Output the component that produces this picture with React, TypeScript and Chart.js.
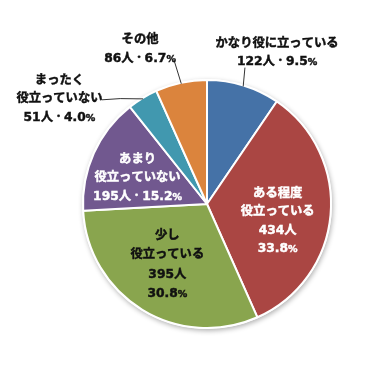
import React, { useEffect, useRef } from "react";
import { Chart, registerables } from "chart.js";

Chart.register(...registerables);

const categories = ["かなり役に立っている", "ある程度役立っている", "少し役立っている", "あまり役立っていない", "まったく役立っていない", "その他"];
const counts = [122, 434, 395, 195, 51, 86];
const percents = ["9.5", "33.8", "30.8", "15.2", "4.0", "6.7"];
const colors = ["#4572A7", "#AA4643", "#89A54E", "#71588F", "#4198AF", "#DB843D"];

const DOT = "\u2009･\u2009";
// label text lines per slice
const labelLines = [
  ["かなり役に立っている", `${counts[0]}人${DOT}${percents[0]}%`],
  ["ある程度", "役立っている", `${counts[1]}人`, `${percents[1]}%`],
  ["少し", "役立っている", `${counts[2]}人`, `${percents[2]}%`],
  ["あまり", "役立っていない", `${counts[3]}人${DOT}${percents[3]}%`],
  ["まったく", "役立っていない", `${counts[4]}人${DOT}${percents[4]}%`],
  ["その他", `${counts[5]}人${DOT}${percents[5]}%`],
];
const labelColors = ["#111", "#fff", "#111", "#fff", "#111", "#111"];
// label block centre relative to pie centre, in units of radius
const labelPos = [
  [0.565, -1.23],
  [0.57, 0.13],
  [-0.32, 0.48],
  [-0.56, -0.22],
  [-1.19, -0.855],
  [-0.54, -1.26],
];
// leader line start relative to centre (units of radius), null = no leader
const leaderStart: (number[] | null)[] = [
  [0.306, -1.10],
  null,
  null,
  null,
  [-0.85, -0.84, -0.70, -0.85],
  [-0.266, -1.16],
];
const lineH = [18, 18.5, 19.5, 18.5, 18.5, 19];

const FONT = "'DejaVu Sans', 'Noto Sans CJK JP', sans-serif";

function drawRich(ctx: CanvasRenderingContext2D, text: string, cx: number, cy: number, color: string) {
  const parts: { t: string; s: number }[] = [];
  for (const ch of text) {
    const s = ch === "%" ? 9.5 : 12.3;
    if (parts.length && parts[parts.length - 1].s === s) parts[parts.length - 1].t += ch;
    else parts.push({ t: ch, s });
  }
  let w = 0;
  for (const p of parts) {
    ctx.font = `bold ${p.s}px ${FONT}`;
    w += ctx.measureText(p.t).width;
  }
  let x = cx - w / 2;
  ctx.fillStyle = color;
  ctx.strokeStyle = color;
  ctx.lineWidth = 0.45;
  ctx.textBaseline = "alphabetic";
  ctx.textAlign = "left";
  for (const p of parts) {
    ctx.font = `bold ${p.s}px ${FONT}`;
    ctx.fillText(p.t, x, cy + 4.5);
    ctx.strokeText(p.t, x, cy + 4.5);
    x += ctx.measureText(p.t).width;
  }
}

const labelPlugin = {
  id: "pieLabels",
  beforeDatasetsDraw(chart: any) {
    const arc = chart.getDatasetMeta(0).data[0];
    if (!arc) return;
    const ctx = chart.ctx;
    ctx.save();
    ctx.shadowColor = "rgba(0,0,0,0.3)";
    ctx.shadowBlur = 5;
    ctx.shadowOffsetX = 1;
    ctx.shadowOffsetY = 2;
    ctx.fillStyle = "#fff";
    ctx.beginPath();
    ctx.arc(arc.x, arc.y, arc.outerRadius + 1, 0, Math.PI * 2);
    ctx.fill();
    ctx.restore();
  },
  afterDatasetsDraw(chart: any) {
    const ctx = chart.ctx;
    const meta = chart.getDatasetMeta(0);
    ctx.save();
    meta.data.forEach((a: any, i: number) => {
      const R = a.outerRadius;
      const cx = a.x, cy = a.y;
      const mid = (a.startAngle + a.endAngle) / 2;
      const ls = leaderStart[i];
      if (ls) {
        ctx.strokeStyle = "#333";
        ctx.lineWidth = 1;
        ctx.beginPath();
        ctx.moveTo(cx + ls[0] * R, cy + ls[1] * R);
        if (ls.length > 2) ctx.lineTo(cx + ls[2] * R, cy + ls[3] * R);
        ctx.lineTo(cx + Math.cos(mid) * (R - 1), cy + Math.sin(mid) * (R - 1));
        ctx.stroke();
      }
      const lines = labelLines[i];
      const bx = cx + labelPos[i][0] * R;
      const by = cy + labelPos[i][1] * R;
      const h = lineH[i];
      lines.forEach((ln, k) => {
        drawRich(ctx, ln, bx, by + (k - (lines.length - 1) / 2) * h, labelColors[i]);
      });
    });
    ctx.restore();
  },
};

export default function App() {
  const ref = useRef<HTMLCanvasElement>(null);
  useEffect(() => {
    document.body.style.margin = "0";
    const chart = new Chart(ref.current!, {
      type: "pie",
      data: {
        labels: categories,
        datasets: [
          {
            data: counts,
            backgroundColor: colors,
            borderColor: "#ffffff",
            borderWidth: 2,
          },
        ],
      },
      options: {
        animation: false,
        responsive: false,
        events: [],
        layout: { padding: { left: 82, right: 40, top: 79, bottom: 37 } },
        plugins: { legend: { display: false }, tooltip: { enabled: false } },
      },
      plugins: [labelPlugin],
    });
    return () => chart.destroy();
  }, []);
  return <canvas ref={ref} width={372} height={366} style={{ display: "block", background: "#fff" }} />;
}
